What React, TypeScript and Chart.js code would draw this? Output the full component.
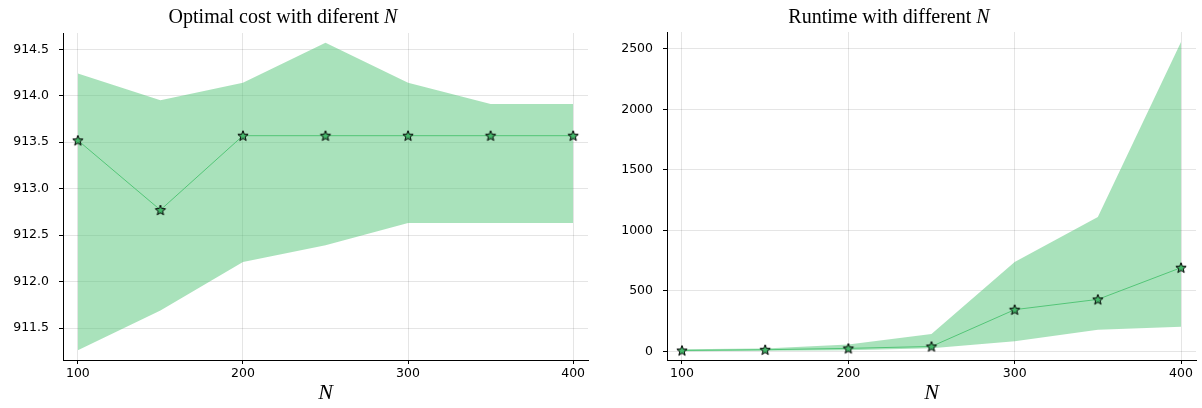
import React, { useEffect, useRef } from "react";
import { Chart, registerables } from "chart.js";

Chart.register(...registerables);

// Sample sizes
const nValues = [100, 150, 200, 250, 300, 350, 400];

// Optimal cost: mean with min / max band
const costMean = [913.52, 912.77, 913.57, 913.57, 913.57, 913.57, 913.57];
const costUpper = [914.24, 913.95, 914.14, 914.57, 914.14, 913.91, 913.91];
const costLower = [911.26, 911.69, 912.21, 912.39, 912.63, 912.63, 912.63];

// Runtime: mean with min / max band
const runtimeMean = [8, 14, 25, 41, 345, 430, 692];
const runtimeUpper = [18, 24, 58, 144, 739, 1111, 2557];
const runtimeLower = [2, 6, 10, 27, 83, 179, 204];

// Tick values
const xTicks = [100, 200, 300, 400];
const costTicks = [911.5, 912.0, 912.5, 913.0, 913.5, 914.0, 914.5];
const runtimeTicks = [0, 500, 1000, 1500, 2000, 2500];

const LINE = "#53c577";
const BAND = "rgba(83,197,119,0.5)";
const GRID = "rgba(0,0,0,0.1)";
const TICK_FONT = { family: "'DejaVu Sans', sans-serif", size: 12.5 };

function makeStar(): HTMLCanvasElement {
  const size = 14;
  const c = document.createElement("canvas");
  c.width = size;
  c.height = size;
  const g = c.getContext("2d")!;
  const cx = size / 2;
  const cy = size / 2 + 0.4;
  const R = 5.4;
  const r = 2.3;
  g.beginPath();
  for (let i = 0; i < 10; i++) {
    const rad = i % 2 === 0 ? R : r;
    const a = -Math.PI / 2 + (i * Math.PI) / 5;
    const px = cx + rad * Math.cos(a);
    const py = cy + rad * Math.sin(a);
    if (i === 0) g.moveTo(px, py);
    else g.lineTo(px, py);
  }
  g.closePath();
  g.fillStyle = "#45b86a";
  g.fill();
  g.lineWidth = 1;
  g.strokeStyle = "#000";
  g.lineJoin = "miter";
  g.stroke();
  return c;
}

// Draws the serif title and the italic "N" axis label
const labelsPlugin = {
  id: "serifLabels",
  afterDraw(chart: any, _args: any, opts: any) {
    const { ctx, chartArea } = chart;
    ctx.save();
    ctx.fillStyle = "#000";
    ctx.textBaseline = "alphabetic";
    const plain = "20px 'Liberation Serif', serif";
    const ital = "italic 20px 'Liberation Serif', serif";
    ctx.font = plain;
    const w1 = ctx.measureText(opts.title).width;
    ctx.font = ital;
    const w2 = ctx.measureText("N").width;
    const start = opts.titleCenter - (w1 + w2) / 2;
    ctx.font = plain;
    ctx.textAlign = "left";
    ctx.fillText(opts.title, start, 23);
    ctx.font = ital;
    ctx.fillText("N", start + w1, 23);

    ctx.font = "italic 22px 'Liberation Serif', serif";
    ctx.textAlign = "center";
    ctx.fillText("N", (chartArea.left + chartArea.right) / 2, 399);
    ctx.restore();
  },
};

function buildConfig(opts: {
  mean: number[];
  upper: number[];
  lower: number[];
  yMin: number;
  yMax: number;
  yTicks: number[];
  yWidth: number;
  padTop: number;
  padRight: number;
  decimals: number;
  title: string;
  titleCenter: number;
  star: HTMLCanvasElement;
}): any {
  const pts = (arr: number[]) => nValues.map((n, i) => ({ x: n, y: arr[i] }));
  return {
    type: "line",
    data: {
      datasets: [
        {
          data: pts(opts.mean),
          borderColor: LINE,
          borderWidth: 1,
          pointStyle: opts.star,
          pointRadius: 5,
          fill: false,
        },
        {
          data: pts(opts.upper),
          borderWidth: 0,
          borderColor: "rgba(0,0,0,0)",
          backgroundColor: BAND,
          pointRadius: 0,
          fill: "+1",
        },
        {
          data: pts(opts.lower),
          borderWidth: 0,
          borderColor: "rgba(0,0,0,0)",
          pointRadius: 0,
          fill: false,
        },
      ],
    },
    options: {
      responsive: false,
      animation: false,
      layout: { padding: { left: 0, top: opts.padTop, right: opts.padRight, bottom: 0 } },
      plugins: {
        legend: { display: false },
        tooltip: { enabled: false },
        serifLabels: { title: opts.title, titleCenter: opts.titleCenter },
      },
      scales: {
        x: {
          type: "linear",
          min: 91,
          max: 409,
          afterFit: (s: any) => {
            s.height = 48;
          },
          afterBuildTicks: (s: any) => {
            s.ticks = xTicks.map((v) => ({ value: v }));
          },
          ticks: {
            font: TICK_FONT,
            color: "#000",
            padding: 2,
            maxRotation: 0,
            callback: (v: any) => String(v),
          },
          grid: { color: GRID, drawTicks: true, tickLength: 4, tickColor: "#000" },
          border: { display: true, color: "#000", width: 1 },
        },
        y: {
          type: "linear",
          min: opts.yMin,
          max: opts.yMax,
          afterFit: (s: any) => {
            s.width = opts.yWidth;
          },
          afterBuildTicks: (s: any) => {
            s.ticks = opts.yTicks.map((v) => ({ value: v }));
          },
          ticks: {
            font: TICK_FONT,
            color: "#000",
            padding: 10,
            callback: (v: any) => Number(v).toFixed(opts.decimals),
          },
          grid: { color: GRID, drawTicks: true, tickLength: 4, tickColor: "#000" },
          border: { display: true, color: "#000", width: 1 },
        },
      },
    },
    plugins: [labelsPlugin],
  };
}

export default function App() {
  const leftRef = useRef<HTMLCanvasElement>(null);
  const rightRef = useRef<HTMLCanvasElement>(null);

  useEffect(() => {
    const star = makeStar();
    const left = new Chart(
      leftRef.current!,
      buildConfig({
        mean: costMean,
        upper: costUpper,
        lower: costLower,
        yMin: 911.156,
        yMax: 914.675,
        yTicks: costTicks,
        yWidth: 63,
        padTop: 33,
        padRight: 13,
        decimals: 1,
        title: "Optimal cost with diferent ",
        titleCenter: 283,
        star,
      })
    );
    const right = new Chart(
      rightRef.current!,
      buildConfig({
        mean: runtimeMean,
        upper: runtimeUpper,
        lower: runtimeLower,
        yMin: -71,
        yMax: 2640,
        yTicks: runtimeTicks,
        yWidth: 66,
        padTop: 32,
        padRight: 5,
        decimals: 0,
        title: "Runtime with different ",
        titleCenter: 288,
        star,
      })
    );
    return () => {
      left.destroy();
      right.destroy();
    };
  }, []);

  return (
    <div
      style={{
        position: "absolute",
        left: 0,
        top: 0,
        width: 1202,
        height: 408,
        display: "flex",
        background: "#fff",
      }}
    >
      <canvas ref={leftRef} width={601} height={408} style={{ display: "block" }} />
      <canvas ref={rightRef} width={601} height={408} style={{ display: "block" }} />
    </div>
  );
}
